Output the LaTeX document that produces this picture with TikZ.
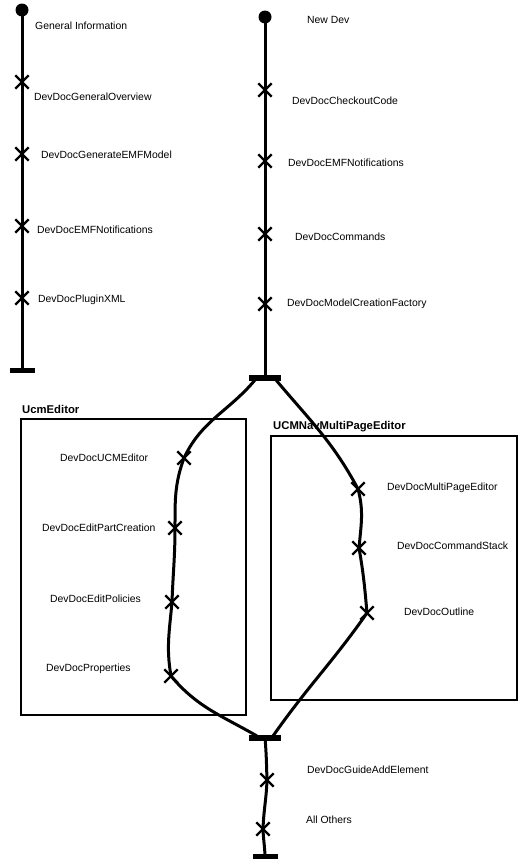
\documentclass[tikz,border=0pt]{standalone}
\usepackage{fontspec}
\setmainfont{Liberation Sans}
\usetikzlibrary{shapes.misc}
\begin{document}
\begin{tikzpicture}[x=1pt,y=-1pt,
  pathline/.style={line width=3pt},
  resp/.style={cross out,draw,line width=2.4pt,minimum size=11pt,inner sep=0pt},
  startpt/.style={circle,fill,minimum size=13pt,inner sep=0pt},
  endbar/.style={rectangle,fill,minimum width=25pt,minimum height=5pt,inner sep=0pt},
  forkbar/.style={rectangle,fill,minimum width=32pt,minimum height=6pt,inner sep=0pt},
  lbl/.style={anchor=west,font=\fontsize{10.4}{12}\selectfont,inner sep=0pt},
  comp/.style={draw,line width=2.2pt},
  complbl/.style={anchor=west,font=\fontsize{11.3}{13}\selectfont\bfseries,inner sep=0pt}]
\useasboundingbox (0,0) rectangle (525,862);
% left path
\node[startpt] (gs) at (22,10) {};
\node[resp] (g1) at (22,82) {};
\node[resp] (g2) at (22,154) {};
\node[resp] (g3) at (22,226) {};
\node[resp] (g4) at (22,298) {};
\node[endbar] (ge) at (22,370) {};
\draw[pathline] (gs.center) -- (ge.center);
\node[lbl] (tgs) at (35,26) {General Information};
\node[lbl] (tg1) at (34,97) {DevDocGeneralOverview};
\node[lbl] (tg2) at (41,155) {DevDocGenerateEMFModel};
\node[lbl] (tg3) at (37,230) {DevDocEMFNotifications};
\node[lbl] (tg4) at (38,300) {DevDocPluginXML};
% middle path
\node[startpt] (ns) at (265,17) {};
\node[resp] (n1) at (265,90) {};
\node[resp] (n2) at (265,161) {};
\node[resp] (n3) at (265,234) {};
\node[resp] (n4) at (265,304) {};
\node[forkbar] (fork) at (265,378) {};
\draw[pathline] (ns.center) -- (fork.center);
\node[lbl] (tns) at (307,20) {New Dev};
\node[lbl] (tn1) at (292,101) {DevDocCheckoutCode};
\node[lbl] (tn2) at (288,163) {DevDocEMFNotifications};
\node[lbl] (tn3) at (295,237) {DevDocCommands};
\node[lbl] (tn4) at (287,304) {DevDocModelCreationFactory};
% components
\draw[comp] (21,419) rectangle (246,715);
\node[complbl] (c1) at (22,409) {UcmEditor};
\draw[comp] (271,436) rectangle (517,700);
\node[complbl] (c2) at (273,427) {UCMNavMultiPageEditor};
% join bar
\node[forkbar] (join) at (265,738) {};
\coordinate (fl) at (255,380);
\coordinate (fr) at (276,380);
\coordinate (jl) at (257,736);
\coordinate (jr) at (273,736);
% left branch
\node[resp] (u1) at (184,458) {};
\node[resp] (u2) at (175,528) {};
\node[resp] (u3) at (172,602) {};
\node[resp] (u4) at (171,676) {};
\draw[pathline] (fl) to[out=-130,in=65] (u1.center)
  to[out=-110,in=90] (u2.center)
  to[out=-90,in=88] (u3.center)
  to[out=-95,in=100] (u4.center)
  to[out=-50,in=150] (jl);
\node[lbl] (tu1) at (60,458) {DevDocUCMEditor};
\node[lbl] (tu2) at (42,528) {DevDocEditPartCreation};
\node[lbl] (tu3) at (50,599) {DevDocEditPolicies};
\node[lbl] (tu4) at (46,669) {DevDocProperties};
% right branch
\node[resp] (m1) at (358,489) {};
\node[resp] (m2) at (359,548) {};
\node[resp] (m3) at (367,613) {};
\draw[pathline] (fr) to[out=-50,in=118] (m1.center)
  to[out=-75,in=85] (m2.center)
  to[out=-80,in=95] (m3.center)
  to[out=-125,in=55] (jr);
\node[lbl] (tm1) at (387,488) {DevDocMultiPageEditor};
\node[lbl] (tm2) at (397,546) {DevDocCommandStack};
\node[lbl] (tm3) at (404,612) {DevDocOutline};
% bottom path
\node[resp] (b1) at (267,780) {};
\node[resp] (b2) at (263,829) {};
\node[endbar] (be) at (265,856) {};
\draw[pathline] (join.center) to[out=-85,in=92] (b1.center)
  to[out=-92,in=88] (b2.center) to[out=-88,in=92] (be.center);
\node[lbl] (tb1) at (307,770) {DevDocGuideAddElement};
\node[lbl] (tb2) at (306,820) {All Others};
\end{tikzpicture}
\end{document}
